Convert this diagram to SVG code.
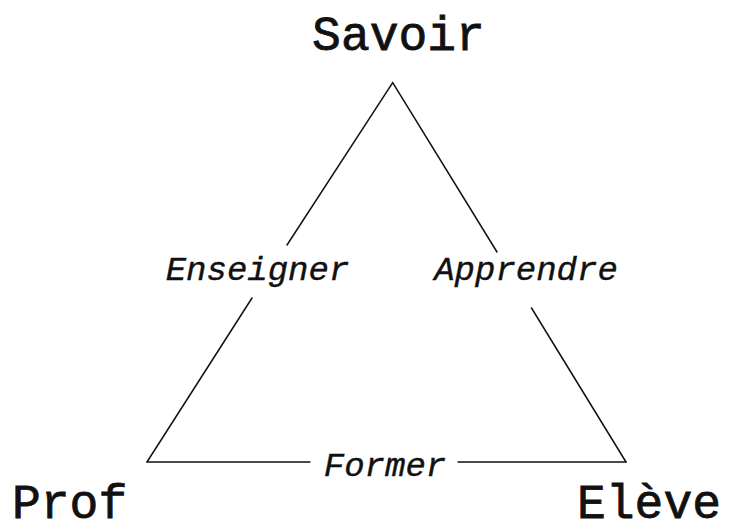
<svg xmlns="http://www.w3.org/2000/svg" width="733" height="532" viewBox="0 0 733 532">
<style>
.edge{stroke:#111;stroke-width:1.5;fill:none;stroke-linecap:round}
.big{font-family:"Liberation Mono","DejaVu Sans Mono",monospace;font-size:48px;fill:#111;stroke:#111;stroke-width:0.8}
.lab{font-family:"Liberation Mono","DejaVu Sans Mono",monospace;font-size:34px;font-style:italic;fill:#111;stroke:#111;stroke-width:0.4}
</style>
<rect width="733" height="532" fill="#fff"/>
<g id="connectors">
<polyline class="edge" points="287,245 392.7,82.7 497,252"/>
<line class="edge" x1="252" y1="298" x2="147" y2="462"/>
<line class="edge" x1="531.5" y1="308" x2="626" y2="462"/>
<line class="edge" x1="147" y1="462" x2="310" y2="462"/>
<line class="edge" x1="458" y1="462" x2="626" y2="462"/>
</g>
<g id="savoir"><text class="big" x="398.5" y="50" text-anchor="middle">Savoir</text></g>
<g id="prof"><text class="big" x="12" y="518">Prof</text></g>
<g id="eleve"><text class="big" x="577" y="518">Elève</text></g>
<g id="enseigner"><text class="lab" x="257.5" y="280" text-anchor="middle">Enseigner</text></g>
<g id="apprendre"><text class="lab" x="526" y="280" text-anchor="middle">Apprendre</text></g>
<g id="former"><text class="lab" x="385" y="476" text-anchor="middle">Former</text></g>
</svg>
